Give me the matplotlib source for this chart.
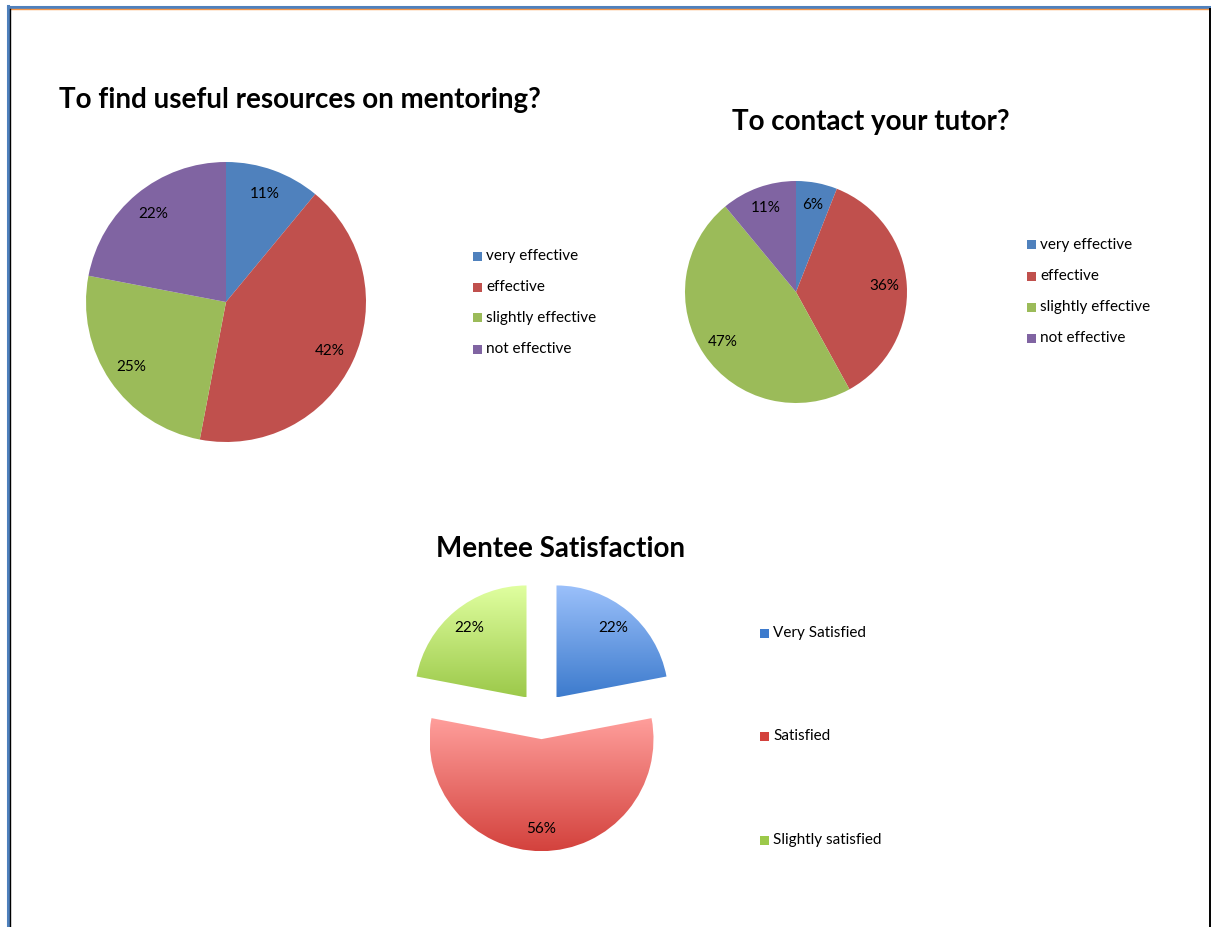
import numpy as np
import matplotlib
matplotlib.use('agg')
import matplotlib.pyplot as plt
from matplotlib.colors import LinearSegmentedColormap
from matplotlib.patches import Rectangle
from matplotlib.lines import Line2D

plt.rcParams['font.family'] = ['Lato', 'DejaVu Sans']

W, H = 1211, 927

# chart 1
res_title = "To find useful resources on mentoring?"
res_labels = ["very effective", "effective", "slightly effective", "not effective"]
res_values = [11, 42, 25, 22]

# chart 2
tutor_title = "To contact your tutor?"
tutor_labels = ["very effective", "effective", "slightly effective", "not effective"]
tutor_values = [6, 36, 47, 11]

# chart 3
sat_title = "Mentee Satisfaction"
sat_labels = ["Very Satisfied", "Satisfied", "Slightly satisfied"]
sat_values = [22, 56, 22]

flat_colors = ["#4F81BD", "#C0504D", "#9BBB59", "#8064A2"]
grad_colors = [("#3D7BCD", "#9CC1FB"), ("#D3423D", "#FF9E9B"), ("#9CC94A", "#E0FFA0")]

TITLE_SIZE = 20
TEXT_SIZE = 11

fig = plt.figure(figsize=(W / 100, H / 100), dpi=100)


def pie_axes(cx, cy, r, lim=1.0):
    # square axes (pixel coords) with the pie of radius 1 centred at (cx, cy)
    half = r * lim
    ax = fig.add_axes([(cx - half) / W, 1 - (cy + half) / H, 2 * half / W, 2 * half / H])
    ax.set_xlim(-lim, lim)
    ax.set_ylim(-lim, lim)
    ax.set_aspect('equal')
    ax.axis('off')
    return ax


def legend(x, y, step, labels, colors, size=TEXT_SIZE):
    for i, lab in enumerate(labels):
        yy = y + i * step
        fig.patches.append(Rectangle((x / W, 1 - (yy + 4.5) / H), 9 / W, 9 / H,
                                     transform=fig.transFigure, color=colors[i], lw=0))
        fig.text((x + 13) / W, 1 - yy / H, lab, fontsize=size, va='center', ha='left')


def pct(v):
    return f"{v:.0f}%"


# chart 1
ax1 = pie_axes(226, 302, 140)
ax1.pie(res_values, colors=flat_colors, startangle=90, counterclock=False,
        autopct=pct, pctdistance=0.82, radius=1, textprops={'fontsize': TEXT_SIZE})
ax1.set_xlim(-1, 1); ax1.set_ylim(-1, 1)
fig.text(300 / W, 1 - 100 / H, res_title, fontsize=TITLE_SIZE, fontweight='bold', ha='center', va='center')
legend(473, 256, 31, res_labels, flat_colors)

# chart 2
ax2 = pie_axes(796, 292, 111)
ax2.pie(tutor_values, colors=flat_colors, startangle=90, counterclock=False,
        autopct=pct, pctdistance=0.8, radius=1, textprops={'fontsize': TEXT_SIZE})
ax2.set_xlim(-1, 1); ax2.set_ylim(-1, 1)
fig.text(871 / W, 1 - 122 / H, tutor_title, fontsize=TITLE_SIZE, fontweight='bold', ha='center', va='center')
legend(1027, 245, 31, tutor_labels, flat_colors)

# chart 3: exploded with vertical gradient fills
ax3 = pie_axes(541.5, 715.6, 112, lim=1.35)
wedges = ax3.pie(sat_values, startangle=90, counterclock=False,
                 explode=[0.21] * 3, radius=1, colors=['none'] * 3,
                 wedgeprops={'linewidth': 0})[0]
for w, (dark, light) in zip(wedges, grad_colors):
    ext = w.get_path().get_extents()
    cmap = LinearSegmentedColormap.from_list('g', [dark, light])
    grad = np.linspace(0, 1, 256).reshape(-1, 1)
    im = ax3.imshow(grad, cmap=cmap, origin='lower', aspect='auto',
                    extent=(ext.x0, ext.x1, ext.y0, ext.y1), zorder=1)
    im.set_clip_path(w)
for w, v in zip(wedges, sat_values):
    th = np.deg2rad((w.theta1 + w.theta2) / 2)
    cx, cy = w.center
    ax3.text(cx + 0.8 * np.cos(th), cy + 0.8 * np.sin(th), pct(v),
             fontsize=TEXT_SIZE, ha='center', va='center', zorder=3)
ax3.set_xlim(-1.35, 1.35); ax3.set_ylim(-1.35, 1.35); ax3.set_aspect('equal')
fig.text(561 / W, 1 - 549 / H, sat_title, fontsize=TITLE_SIZE, fontweight='bold', ha='center', va='center')
legend(760, 633, 103.5, sat_labels, [c[0] for c in grad_colors])

# page frame
def fline(xs, ys, color, lw):
    fig.lines.append(Line2D([x / W for x in xs], [1 - y / H for y in ys],
                            transform=fig.transFigure, color=color, lw=lw))

fline([7.5, W], [7, 7], "#4F81BD", 2.2)
fline([9, W], [9.3, 9.3], "#F79646", 1)
fline([7.5, 7.5], [6, H], "#4F81BD", 2.2)
fline([9.6, 9.6], [9, H], "black", 1)
fline([1210, 1210], [9, H], "black", 1.4)

fig.savefig("out.png", dpi=100)
